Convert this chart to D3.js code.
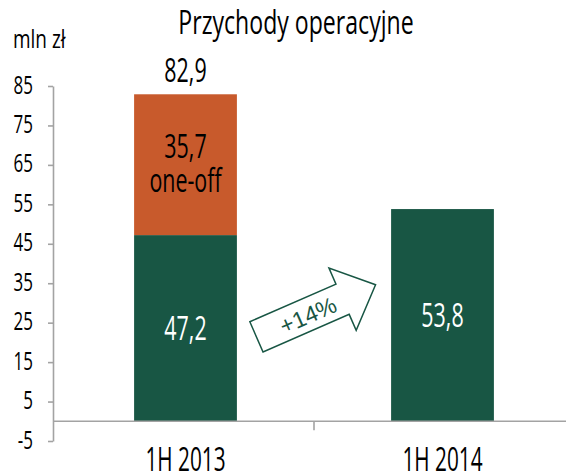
<!DOCTYPE html>
<html lang="pl">
    <head>
        <meta charset="utf-8">
        <title>Przychody operacyjne</title>
        <script type="text/javascript" src="https://d3js.org/d3.v7.min.js"></script>
        <style type="text/css">
            body { margin: 0; background: #fff; }
            text { font-family: "Open Sans", sans-serif; }
            .cond { font-weight: 500; }
        </style>
    </head>
    <body>
        <script type="text/javascript">

            const width = 566;
            const height = 476;

            // data
            const categories = ["1H 2013", "1H 2014"];
            const baseValues = [47.2, 53.8];
            const oneOffValues = [35.7, 0];
            const oneOffTag = "one-off";
            const yTicks = [-5, 5, 15, 25, 35, 45, 55, 65, 75, 85];
            const growthLabel = "+14%";

            const green = "#185644";
            const orange = "#c85a2c";
            const axisGrey = "#a3a3a3";

            const fmt = v => d3.format(".1f")(v).replace(".", ",");

            const xScale = d3.scaleBand()
                .domain(categories)
                .range([57, 571])
                .paddingInner(0.6)
                .paddingOuter(0.3);

            const yScale = d3.scaleLinear()
                .domain([-5, 85])
                .range([441, 86]);

            const svg = d3.select("body")
                .append("svg")
                .attr("width", width)
                .attr("height", height);

            // condensed text helper (horizontal squeeze fakes a condensed face)
            function label(x, y, str, size, opts) {
                opts = opts || {};
                const sq = opts.squeeze || 0.67;
                return svg.append("text")
                    .attr("class", "cond")
                    .attr("transform", "translate(" + x + "," + y + ") scale(" + sq + ",1)")
                    .attr("text-anchor", opts.anchor || "middle")
                    .attr("font-size", size + "px")
                    .attr("fill", opts.fill || "#000")
                    .text(str);
            }

            // title + unit
            label(296, 34, "Przychody operacyjne", 33, {squeeze: 0.7});
            label(13, 48, "mln zł", 25, {squeeze: 0.76, anchor: "start"});

            // left axis
            const tickSq = 0.68;
            const leftAxis = d3.axisLeft(yScale)
                .tickValues(yTicks)
                .tickFormat(d => String(d))
                .tickSize(5)
                .tickSizeOuter(0)
                .tickPadding(15);

            const gy = svg.append("g")
                .attr("transform", "translate(53,0)")
                .call(leftAxis);
            gy.select(".domain").attr("stroke", axisGrey).attr("stroke-width", 1.6);
            gy.selectAll(".tick line").attr("stroke", axisGrey).attr("stroke-width", 1.6);
            gy.selectAll(".tick text")
                .attr("class", "cond")
                .attr("fill", "#000")
                .attr("font-size", "25px")
                .attr("x", -20 / tickSq)
                .attr("dy", "0.28em")
                .attr("transform", "scale(" + tickSq + ",1)")
                .style("font-family", "'Open Sans', sans-serif");

            // bars
            const rows = categories.map((c, i) => ({cat: c, base: baseValues[i], extra: oneOffValues[i]}));

            svg.selectAll("rect.base")
                .data(rows)
                .enter()
                .append("rect")
                .attr("class", "base")
                .attr("x", d => xScale(d.cat))
                .attr("y", d => yScale(d.base))
                .attr("width", xScale.bandwidth())
                .attr("height", d => yScale(0) - yScale(d.base))
                .attr("fill", green);

            svg.selectAll("rect.extra")
                .data(rows.filter(d => d.extra > 0))
                .enter()
                .append("rect")
                .attr("class", "extra")
                .attr("x", d => xScale(d.cat))
                .attr("y", d => yScale(d.base + d.extra))
                .attr("width", xScale.bandwidth())
                .attr("height", d => yScale(d.base) - yScale(d.base + d.extra))
                .attr("fill", orange);

            // bottom axis line + category boundary tick
            const y0 = yScale(0);
            svg.append("line")
                .attr("x1", 53).attr("x2", width)
                .attr("y1", y0).attr("y2", y0)
                .attr("stroke", axisGrey).attr("stroke-width", 1.6);

            const boundary = (xScale(categories[0]) + xScale.bandwidth() + xScale(categories[1])) / 2;
            svg.append("line")
                .attr("x1", boundary).attr("x2", boundary)
                .attr("y1", y0).attr("y2", y0 + 9)
                .attr("stroke", axisGrey).attr("stroke-width", 1.6);

            // category labels
            categories.forEach(c => label(xScale(c) + xScale.bandwidth() / 2, 471, c, 32, {squeeze: 0.65}));

            // value labels
            rows.forEach(d => {
                const cx = xScale(d.cat) + xScale.bandwidth() / 2;
                label(cx, yScale(d.base / 2) + 12, fmt(d.base), 32, {fill: "#fff"});
                if (d.extra > 0) {
                    const mid = yScale(d.base + d.extra / 2);
                    const t = label(cx, mid - 7, fmt(d.extra), 32);
                    t.append("tspan").attr("x", 0).attr("dy", 34).text(oneOffTag);
                    label(cx, yScale(d.base + d.extra) - 12, fmt(d.base + d.extra), 32);
                }
            });

            // growth arrow (local frame, centred between bars)
            const arrowLen = 130, shaftW = 33, headW = 68, headLen = 36;
            const arrowPts = [
                [-arrowLen / 2, -shaftW / 2],
                [arrowLen / 2 - headLen, -shaftW / 2],
                [arrowLen / 2 - headLen, -headW / 2],
                [arrowLen / 2, 0],
                [arrowLen / 2 - headLen, headW / 2],
                [arrowLen / 2 - headLen, shaftW / 2],
                [-arrowLen / 2, shaftW / 2]
            ];
            const arrow = svg.append("g")
                .attr("transform", "translate(" + (boundary + 2) + "," + yScale(28) + ") rotate(-23.6)");
            arrow.append("path")
                .attr("d", d3.line()(arrowPts) + "Z")
                .attr("fill", "#fff")
                .attr("stroke", green)
                .attr("stroke-width", 1.5);
            arrow.append("text")
                .attr("x", -9)
                .attr("y", 9)
                .attr("text-anchor", "middle")
                .attr("font-size", "23px")
                .attr("fill", green)
                .style("font-family", "'Liberation Sans', Arial, sans-serif")
                .text(growthLabel);

        </script>
    </body>
</html>
